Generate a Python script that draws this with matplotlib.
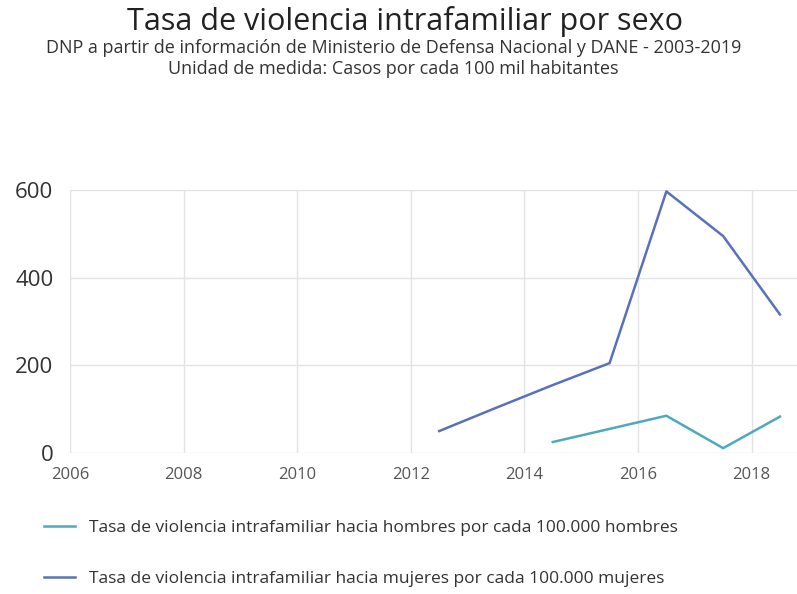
import matplotlib
matplotlib.use("Agg")
import matplotlib.pyplot as plt

# Data
years_mujeres = [2012.5, 2013.5, 2014.5, 2015.5, 2016.5, 2017.5, 2018.5]
tasa_mujeres = [50, 103, 155, 205, 597, 495, 316]

years_hombres = [2014.5, 2015.5, 2016.5, 2017.5, 2018.5]
tasa_hombres = [25, 55, 85, 11, 83]

xticks = [2006, 2008, 2010, 2012, 2014, 2016, 2018]
yticks = [0, 200, 400, 600]

label_hombres = "Tasa de violencia intrafamiliar hacia hombres por cada 100.000 hombres"
label_mujeres = "Tasa de violencia intrafamiliar hacia mujeres por cada 100.000 mujeres"

plt.rcParams['font.family'] = ['Open Sans', 'DejaVu Sans']

fig = plt.figure(figsize=(7.97, 5.94), dpi=100)
ax = fig.add_axes([0.0878, 0.2374, 0.9122, 0.4426])

ax.plot(years_hombres, tasa_hombres, color='#4fa9bd', linewidth=1.8, label=label_hombres)
ax.plot(years_mujeres, tasa_mujeres, color='#5872b8', linewidth=1.8, label=label_mujeres)

ax.set_xlim(2006, 2018.8)
ax.set_ylim(0, 600)
ax.set_xticks(xticks)
ax.set_yticks(yticks)
ax.tick_params(axis='x', length=0, pad=10, labelsize=12, labelcolor='#555555')
ax.tick_params(axis='y', length=0, pad=12, labelsize=16, labelcolor='#333333')
ax.grid(True, color='#e3e3e3', linewidth=1)
for s in ax.spines.values():
    s.set_visible(False)
ax.set_axisbelow(True)

fig.text(0.508, 0.963, "Tasa de violencia intrafamiliar por sexo",
         ha='center', va='center', fontsize=22, color='#222222')
fig.text(0.494, 0.920, "DNP a partir de información de Ministerio de Defensa Nacional y DANE - 2003-2019",
         ha='center', va='center', fontsize=13, color='#333333')
fig.text(0.494, 0.884, "Unidad de medida: Casos por cada 100 mil habitantes",
         ha='center', va='center', fontsize=13, color='#333333')

handles, labels = ax.get_legend_handles_labels()
fig.legend(handles, labels, loc='upper left', bbox_to_anchor=(0.035, 0.151),
           frameon=False, fontsize=12.5, labelspacing=2.0, handlelength=1.8,
           handletextpad=0.8, labelcolor='#333333')

fig.savefig("out.png", dpi=100)
